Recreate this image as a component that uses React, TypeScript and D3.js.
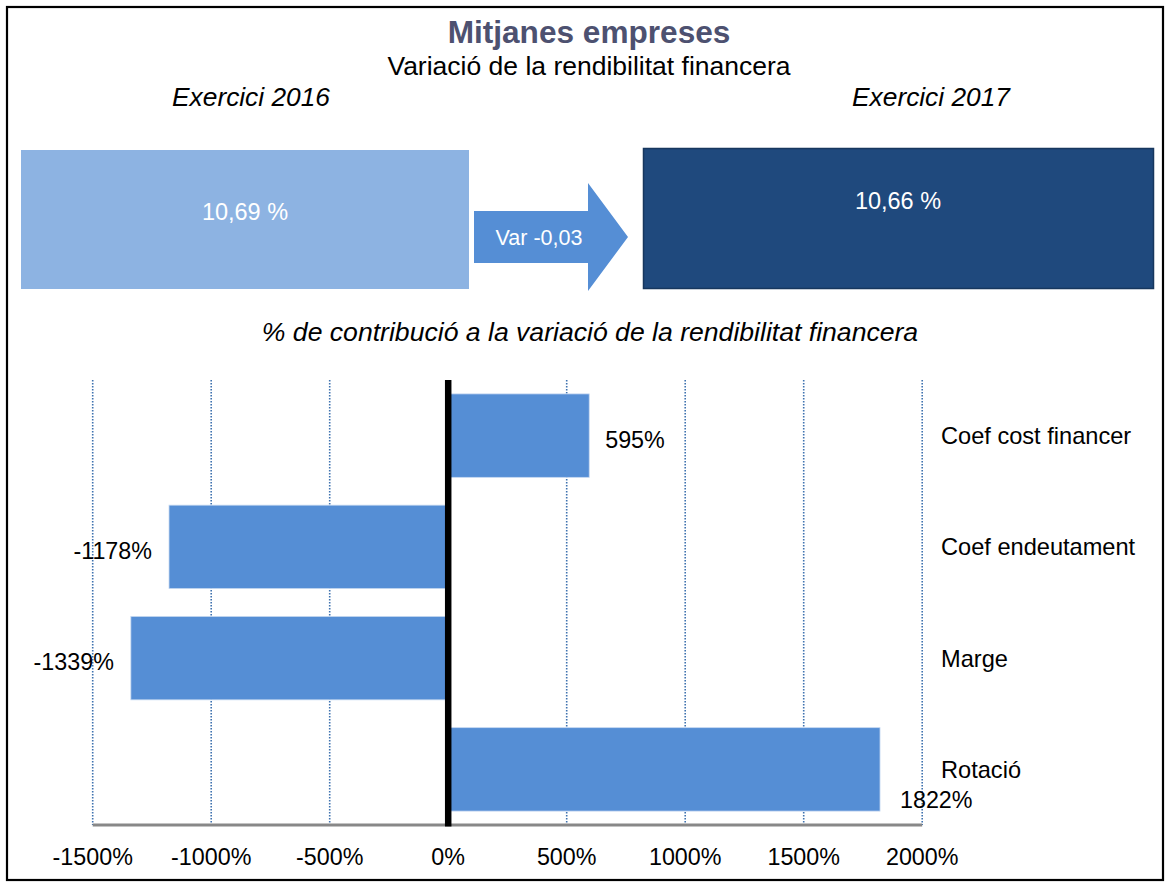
import React from "react";
import * as d3 from "d3";

const categories = ["Coef cost financer", "Coef endeutament", "Marge", "Rotació"];
const contributions = [595, -1178, -1339, 1822];
const tickValues = [-1500, -1000, -500, 0, 500, 1000, 1500, 2000];
const years = ["Exercici 2016", "Exercici 2017"];
const rentabilitat = [10.69, 10.66];
const variacio = [-0.03];

const W = 1166;
const H = 883;
const FONT = "'Liberation Sans', Arial, sans-serif";
const BAR = "#558ED5";

const fmtComma = (v: number) =>
  d3.format(".2f")(v).replace(".", ",").replace("\u2212", "-");

export default function App() {
  const x = d3.scaleLinear().domain([-1500, 2000]).range([92.7, 922.2]);
  const y = d3
    .scaleBand<string>()
    .domain(categories)
    .range([380, 825])
    .paddingInner(0.25)
    .paddingOuter(0.125);
  const x0 = x(0);
  const labelX = 941;

  const arrowPath = d3.path();
  arrowPath.moveTo(474, 211);
  arrowPath.lineTo(588, 211);
  arrowPath.lineTo(588, 183);
  arrowPath.lineTo(628, 237);
  arrowPath.lineTo(588, 291);
  arrowPath.lineTo(588, 263);
  arrowPath.lineTo(474, 263);
  arrowPath.closePath();

  return (
    <svg
      width={W}
      height={H}
      style={{ position: "absolute", left: 0, top: 0, background: "#fff" }}
      fontFamily={FONT}
    >
      <rect x={0} y={0} width={W} height={H} fill="#fff" />
      <rect x={7} y={7} width={1156} height={873} fill="none" stroke="#000" strokeWidth={2.2} />

      {/* Titles */}
      <text x={589} y={43} textAnchor="middle" fontSize={31.6} fontWeight="bold" fill="#4D5170">
        Mitjanes empreses
      </text>
      <text x={589} y={75} textAnchor="middle" fontSize={26.5} fill="#000">
        Variació de la rendibilitat financera
      </text>
      <text x={251} y={106} textAnchor="middle" fontSize={26.3} fontStyle="italic" fill="#000">
        {years[0]}
      </text>
      <text x={931} y={106} textAnchor="middle" fontSize={26.3} fontStyle="italic" fill="#000">
        {years[1]}
      </text>

      {/* Boxes */}
      <rect x={21} y={150} width={448} height={139} fill="#8DB3E2" />
      <text x={245} y={220} textAnchor="middle" fontSize={23.5} fill="#fff">
        {fmtComma(rentabilitat[0])} %
      </text>
      <path d={arrowPath.toString()} fill={BAR} />
      <text x={539} y={245} textAnchor="middle" fontSize={21.5} fill="#fff">
        Var {fmtComma(variacio[0])}
      </text>
      <rect x={643.5} y={148.5} width={510} height={140} fill="#1F497D" stroke="#17375E" strokeWidth={1.5} />
      <text x={898} y={209} textAnchor="middle" fontSize={23.5} fill="#fff">
        {fmtComma(rentabilitat[1])} %
      </text>

      <text x={590} y={341} textAnchor="middle" fontSize={26.6} fontStyle="italic" fill="#000">
        % de contribució a la variació de la rendibilitat financera
      </text>

      {/* Gridlines */}
      {tickValues
        .filter((t) => t !== 0)
        .map((t) => (
          <line
            key={"g" + t}
            x1={x(t)}
            x2={x(t)}
            y1={380}
            y2={825}
            stroke="#3F72AF"
            strokeWidth={1.6}
            strokeDasharray="1.6,1.4"
          />
        ))}

      {/* Bars */}
      {categories.map((c, i) => {
        const v = contributions[i];
        const xa = x(Math.min(0, v));
        const xb = x(Math.max(0, v));
        return (
          <rect
            key={"b" + c}
            x={xa}
            y={y(c)!}
            width={xb - xa}
            height={y.bandwidth()}
            fill={BAR}
            stroke="#C6D9F1"
            strokeWidth={0.8}
          />
        );
      })}

      {/* Axis line */}
      <line x1={x(-1500)} x2={x(2000)} y1={825} y2={825} stroke="#888" strokeWidth={3} />
      {/* Zero line */}
      <line x1={x0} x2={x0} y1={380} y2={826.5} stroke="#000" strokeWidth={6.5} />

      {/* Tick labels */}
      {tickValues.map((t) => (
        <text key={"t" + t} x={x(t)} y={865} textAnchor="middle" fontSize={23.3} fill="#000">
          {t}%
        </text>
      ))}

      {/* Value labels */}
      {categories.map((c, i) => {
        const v = contributions[i];
        const cy = y(c)! + y.bandwidth() / 2;
        const end = x(v);
        let lx: number;
        let ly = cy + 12;
        let anchor: "start" | "end" = "start";
        if (v < 0) {
          lx = end - 17;
          anchor = "end";
        } else if (end + 16 + 80 > labelX) {
          lx = end + 20;
          ly = cy + 39;
        } else {
          lx = end + 16;
        }
        return (
          <text key={"v" + c} x={lx} y={ly} textAnchor={anchor} fontSize={23.3} fill="#000">
            {v}%
          </text>
        );
      })}

      {/* Category labels */}
      {categories.map((c) => (
        <text
          key={"c" + c}
          x={labelX}
          y={y(c)! + y.bandwidth() / 2 + 8.5}
          fontSize={23.6}
          fill="#000"
        >
          {c}
        </text>
      ))}
    </svg>
  );
}
